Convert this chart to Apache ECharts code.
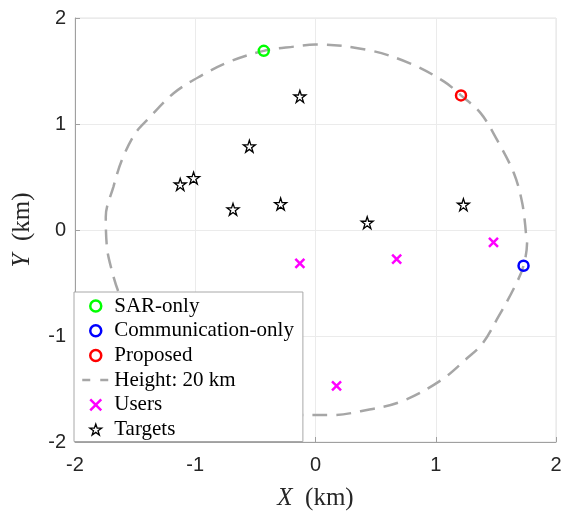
<!DOCTYPE html>
<html>
<head>
<meta charset="utf-8">
<script src="https://cdn.jsdelivr.net/npm/echarts@6/dist/echarts.min.js"></script>
<style>
  html, body { margin: 0; padding: 0; background: #fff; }
  #chart { width: 564px; height: 512px; }
</style>
</head>
<body>
<div id="chart"></div>
<script>
// Ground positions (km)
const sarOnly = [[-0.43, 1.69]];
const commOnly = [[1.73, -0.337]];
const proposed = [[1.21, 1.27]];

// Footprint traced at 20 km height
const heightTrack = [
  [1.75, -0.03], [1.72, 0.25], [1.65, 0.535], [1.51, 0.85], [1.375, 1.10],
  [1.21, 1.27], [1.07, 1.40], [0.79, 1.57], [0.43, 1.70], [0.0, 1.75],
  [-0.18, 1.73], [-0.43, 1.69], [-0.71, 1.59], [-0.96, 1.45], [-1.18, 1.29],
  [-1.39, 1.05], [-1.5, 0.91], [-1.61, 0.66], [-1.68, 0.41], [-1.744, 0.126],
  [-1.735, -0.157], [-1.71, -0.31], [-1.64, -0.58], [-1.5, -0.95], [-1.25, -1.3],
  [-0.9, -1.55], [-0.5, -1.7], [-0.1, -1.745], [0.15, -1.745], [0.375, -1.71],
  [0.71, -1.62], [1.04, -1.42], [1.26, -1.21], [1.39, -1.07], [1.52, -0.82],
  [1.65, -0.55], [1.73, -0.337], [1.76, -0.094], [1.75, -0.03]
];

const users = [[-0.13, -0.314], [0.175, -1.47], [0.675, -0.274], [1.48, -0.116]];

const targets = [
  [-1.125, 0.43], [-1.014, 0.49], [-0.55, 0.79], [-0.13, 1.26],
  [-0.686, 0.195], [-0.29, 0.245], [0.43, 0.069], [1.23, 0.239]
];

const axisTicks = [-2, -1, 0, 1, 2];

const starPath = 'path://M50,0 L61.8,35.1 L98.9,35.1 L68.8,56.7 L80.3,91.9 L50,70 L19.7,91.9 L31.2,56.7 L1.1,35.1 L38.2,35.1 Z';
const crossPath = 'path://M0,0 L10,10 M10,0 L0,10';

const tickFont = { fontFamily: 'Liberation Sans', fontSize: 20, color: '#262626' };
const serif = 'Liberation Serif';

function axis(nameText, isX) {
  return {
    type: 'value',
    min: axisTicks[0],
    max: axisTicks[axisTicks.length - 1],
    interval: 1,
    name: nameText,
    nameLocation: 'middle',
    nameGap: isX ? 44 : 40,
    nameTextStyle: {
      fontFamily: serif, fontSize: 25, color: '#262626',
      rich: { i: { fontFamily: serif, fontSize: 25, fontStyle: 'italic', color: '#262626' } }
    },
    axisLine: { show: true, onZero: false, lineStyle: { color: '#a0a0a0', width: 1 } },
    axisTick: { show: true, inside: true, length: 5, lineStyle: { color: '#a0a0a0' } },
    axisLabel: Object.assign({ margin: isX ? 13 : 9 }, tickFont),
    splitLine: { show: true, lineStyle: { color: '#ebebeb', width: 1 } }
  };
}

const chart = echarts.init(document.getElementById('chart'), null, { renderer: 'canvas' });

chart.setOption({
  animation: false,
  backgroundColor: '#fff',
  grid: {
    left: 75, right: 8, top: 18, bottom: 70,
    outerBoundsMode: 'none',
    containLabel: false,
    show: true, borderColor: '#e3e3e3', borderWidth: 1, backgroundColor: 'transparent'
  },
  xAxis: axis('{i|X}  (km)', true),
  yAxis: axis('{i|Y}  (km)', false),
  legend: {
    orient: 'vertical',
    left: 74,
    top: 292,
    padding: [3, 9, 1, 7],
    itemWidth: 27,
    itemHeight: 11,
    itemGap: 2.7,
    backgroundColor: '#fff',
    borderColor: '#a8a8a8',
    borderWidth: 1,
    borderRadius: 0,
    textStyle: { fontFamily: serif, fontSize: 21, color: '#000', lineHeight: 22 },
    data: [
      { name: 'SAR-only', itemStyle: { borderWidth: 2.5 } },
      { name: 'Communication-only', itemStyle: { borderWidth: 2.5 } },
      { name: 'Proposed', itemStyle: { borderWidth: 2.5 } },
      {
        name: 'Height: 20 km',
        itemStyle: { color: 'rgba(0,0,0,0)', borderWidth: 0 },
        lineStyle: { type: [8, 10], width: 2.5 }
      },
      { name: 'Users', itemStyle: { borderWidth: 2.5 } },
      { name: 'Targets', itemStyle: { borderWidth: 1.3 } }
    ]
  },
  series: [
    {
      name: 'Height: 20 km',
      type: 'line',
      data: heightTrack,
      smooth: 0.35,
      symbol: 'none',
      lineStyle: { color: '#a6a6a6', width: 2.5, type: [15, 9] },
      itemStyle: { color: '#a6a6a6' },
      z: 2
    },
    {
      name: 'Users',
      type: 'scatter',
      data: users,
      symbol: crossPath,
      symbolSize: 9,
      itemStyle: { color: 'rgba(0,0,0,0)', borderColor: '#ff00ff', borderWidth: 2.5, opacity: 1 },
      z: 3
    },
    {
      name: 'Targets',
      type: 'scatter',
      data: targets,
      symbol: starPath,
      symbolSize: 12,
      itemStyle: { color: '#ffffff', borderColor: '#000000', borderWidth: 1.3, opacity: 1 },
      z: 3
    },
    {
      name: 'SAR-only',
      type: 'scatter',
      data: sarOnly,
      symbol: 'circle',
      symbolSize: 10,
      itemStyle: { color: 'rgba(255,255,255,0)', borderColor: '#00ff00', borderWidth: 2.5, opacity: 1 },
      z: 4
    },
    {
      name: 'Communication-only',
      type: 'scatter',
      data: commOnly,
      symbol: 'circle',
      symbolSize: 10,
      itemStyle: { color: 'rgba(255,255,255,0)', borderColor: '#0000ff', borderWidth: 2.5, opacity: 1 },
      z: 4
    },
    {
      name: 'Proposed',
      type: 'scatter',
      data: proposed,
      symbol: 'circle',
      symbolSize: 10,
      itemStyle: { color: 'rgba(255,255,255,0)', borderColor: '#ff0000', borderWidth: 2.5, opacity: 1 },
      z: 4
    }
  ]
});
</script>
</body>
</html>
